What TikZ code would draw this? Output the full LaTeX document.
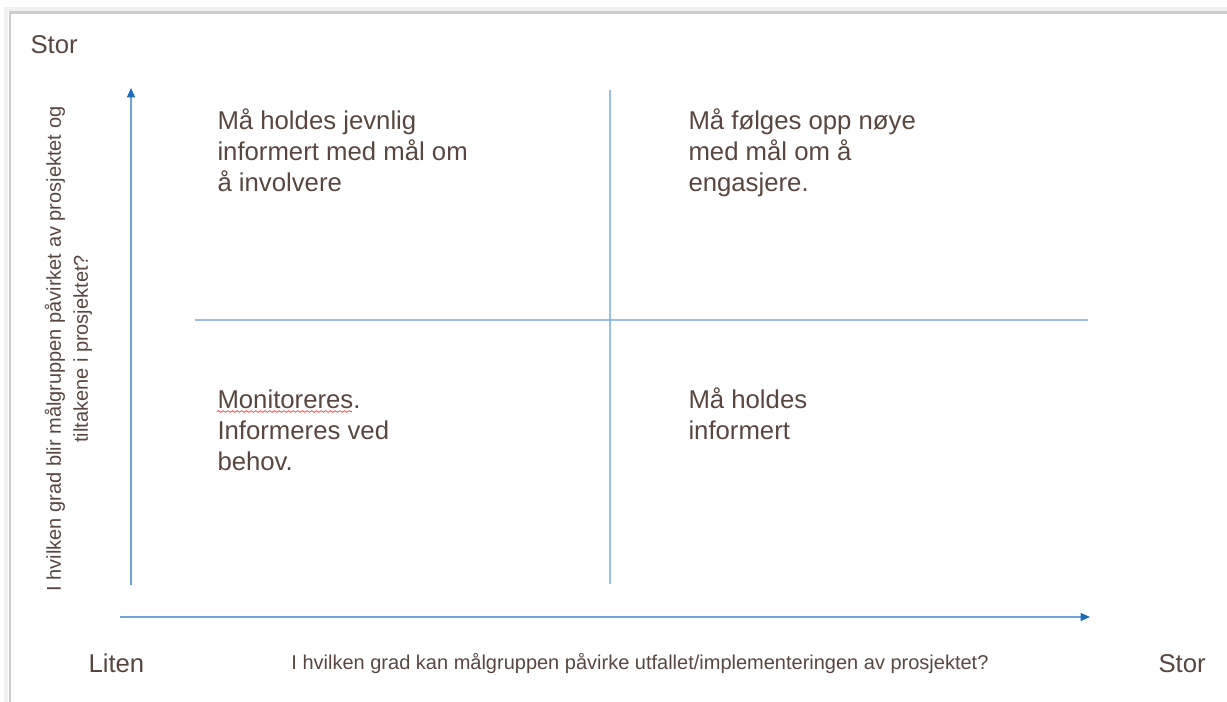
\documentclass[tikz,border=0pt]{standalone}
\usepackage{fontspec}
\setmainfont{Liberation Sans}
\usetikzlibrary{arrows.meta,decorations.pathmorphing}

\definecolor{txtbrown}{RGB}{89,71,63}
\definecolor{axisblue}{RGB}{110,165,215}
\definecolor{tipblue}{RGB}{31,107,181}
\definecolor{gridblue}{RGB}{120,172,220}

\tikzset{
	quadtext/.style={anchor=base west, align=left, inner sep=0pt, text=txtbrown,
		font=\fontsize{19.3}{23.25}\selectfont},
	endtext/.style={anchor=base west, inner sep=0pt, text=txtbrown,
		font=\fontsize{19.3}{22}\selectfont},
	axtext/.style={inner sep=0pt, align=center, text=txtbrown,
		font=\fontsize{15}{20.25}\selectfont},
	axisline/.style={draw=axisblue, line width=1pt,
		-{Triangle[length=7pt,width=6pt,color=tipblue]}},
	gridline/.style={draw=gridblue, line width=1.6pt, draw opacity=0.75}}
\tikzset{every picture/.style={line width=0.75pt}}

\begin{document}
\begin{tikzpicture}[x=0.75pt,y=0.75pt,yscale=-1,xscale=1]
	\useasboundingbox (0,0) rectangle (1227,702);

	%Shape: Frame
	\draw [draw=gray!12, line width=3pt] (6,702) -- (6,9) -- (1227,9) ;
	\draw [draw=gray!40, line width=1.6pt] (10,702) -- (10,12.5) -- (1227,12.5) ;

	%Axis corners
	\coordinate (yfoot) at (131,585) ;
	\coordinate (ytop) at (131,88) ;
	\coordinate (xfoot) at (120,617) ;
	\coordinate (xend) at (1090,617) ;
	\coordinate (vtop) at (610,90) ;
	\coordinate (vbot) at (610,584) ;
	\coordinate (hleft) at (195,320) ;
	\coordinate (hright) at (1088,320) ;

	%Axis arrows
	\draw [axisline] (yfoot) -- (ytop) ;
	\draw [axisline] (xfoot) -- (xend) ;
	%Quadrant lines
	\draw [gridline] (vtop) -- (vbot) ;
	\draw [gridline, line width=1.2pt] (hleft) -- (hright) ;

	% Text Node
	\node [endtext] (storTop) at (30,54) {Stor};
	% Text Node
	\node [endtext] (liten) at (88,672) {Liten};
	% Text Node
	\node [endtext] (storRight) at (1158,672) {Stor};
	% Text Node
	\node [axtext] (xlabel) at (640,664) {I hvilken grad kan målgruppen påvirke utfallet/implementeringen av prosjektet?};
	% Text Node
	\node [axtext, rotate=90] (ylabel) at (68.5,349) {I hvilken grad blir målgruppen påvirket av prosjektet og\\tiltakene i prosjektet?};

	% Text Node (base is the last line)
	\node [quadtext] (qTL) at (217,192) {Må holdes jevnlig\\informert med mål om\\å involvere};
	% Text Node
	\node [quadtext] (qTR) at (688,192) {Må følges opp nøye\\med mål om å\\engasjere.};
	% Text Node
	\node [quadtext] (qBL) at (217,470) {Monitoreres.\\Informeres ved\\behov.};
	% Text Node
	\node [quadtext] (qBR) at (688,439) {Må holdes\\informert};

	%Spelling mark
	\draw [draw=red!70, line width=0.6pt, decorate,
		decoration={snake, segment length=3.5pt, amplitude=0.6pt}] (217,411.5) -- (352,411.5) ;

\end{tikzpicture}
\end{document}
